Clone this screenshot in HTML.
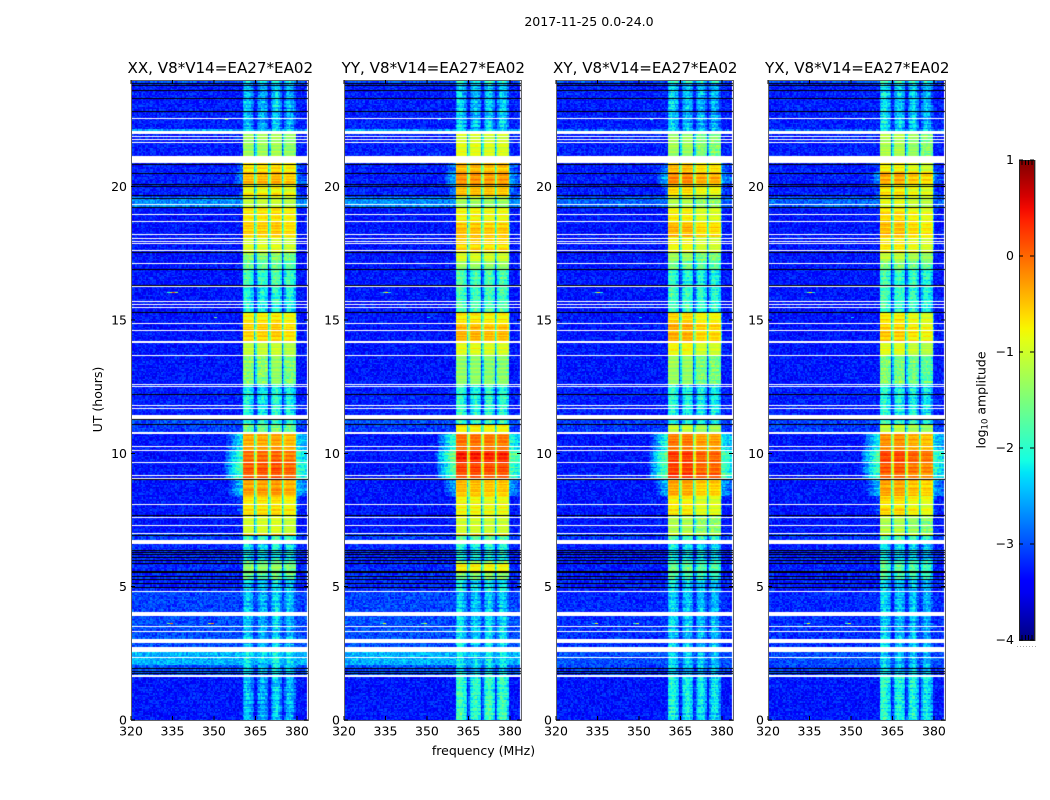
<!DOCTYPE html>
<html lang="en">
<head>
<meta charset="utf-8">
<title>2017-11-25 0.0-24.0</title>
<style>
html,body{margin:0;padding:0;background:#fff;}
#figure{position:relative;width:1050px;height:800px;overflow:hidden;background:#fff;font-family:"DejaVu Sans","Liberation Sans",sans-serif;}
canvas{position:absolute;display:block;}
svg{position:absolute;left:0;top:0;}
text{fill:#000;font-family:"DejaVu Sans","Liberation Sans",sans-serif;}
</style>
</head>
<body>
<div id="figure">
<svg id="overlay" width="1050" height="800" viewBox="0 0 1050 800">
<defs><linearGradient id="jet-gradient" x1="0" y1="1" x2="0" y2="0"></linearGradient></defs>
<text x="589" y="26" font-size="12.55" text-anchor="middle">2017-11-25 0.0-24.0</text>
<text x="483.5" y="755" font-size="12.5" text-anchor="middle">frequency (MHz)</text>
<text transform="translate(102,399.5) rotate(-90)" font-size="12.5" text-anchor="middle">UT (hours)</text>
<text transform="translate(985.5,400) rotate(-90)" font-size="12.5" text-anchor="middle">log<tspan font-size="8.5" dy="2">10</tspan><tspan dy="-2"> amplitude</tspan></text>
</svg>
</div>
<script>
// ---------- Data ----------
const polarisations = ["XX", "YY", "XY", "YX"];
const panelTitles = ["XX, V8*V14=EA27*EA02", "YY, V8*V14=EA27*EA02", "XY, V8*V14=EA27*EA02", "YX, V8*V14=EA27*EA02"];
const freqTicks = [320, 335, 350, 365, 380];
const hourTicks = [0, 5, 10, 15, 20];
const colorTicks = [1, 0, -1, -2, -3, -4];

// Time segments: each starts at bandStart[i] and ends at the next start (hours UT)
const bandStart = [0, 1.65, 2.05, 2.75, 3.9, 4.85, 5.3, 5.55, 5.85, 6.0, 6.6, 6.95, 7.0, 7.65, 8.4, 9.05, 9.65, 10.1, 10.75, 11.1, 11.3, 12.56, 13.65, 14.14, 14.89, 15.3, 16.28, 16.91, 17.18, 17.55, 18.08, 18.64, 19.24, 19.61, 20.1, 20.53, 20.89, 21.98, 22.13, 23.9];
// Peak log10 amplitude inside the 360-380 MHz passband for each segment
const peakXX = [-2.6, -2.55, -2.35, -2.55, -2.5, -2.45, -1.7, -1.4, -1.7, -2.35, -2.05, -0.5, -1.0, -0.7, -0.3, 0.1, 0.0, -0.35, -1.6, -2.05, -2.25, -1.45, -1.1, -0.55, -0.7, -2.15, -1.95, -1.7, -1.5, -0.95, -0.55, -0.7, -1.1, -0.8, -0.45, -0.6, -1.3, -2.45, -2.6, -2.25];
const peakYY = [-2.05, -2.45, -2.35, -2.45, -2.55, -2.35, -1.6, -0.85, -1.5, -2.25, -1.75, -0.6, -1.0, -0.8, -0.5, 0.15, 0.3, -0.1, -0.8, -2.05, -2.15, -1.4, -0.9, -0.45, -0.75, -1.95, -1.95, -1.4, -1.0, -0.6, -0.5, -0.8, -1.3, -0.5, -0.25, -0.5, -0.95, -2.45, -2.55, -2.15];
const peakXY = [-2.3, -2.55, -2.55, -2.55, -2.55, -2.45, -1.9, -1.7, -1.9, -2.35, -2.05, -0.8, -1.3, -0.85, -0.45, 0.1, 0.1, -0.2, -1.1, -2.15, -2.25, -1.45, -0.9, -0.5, -0.7, -2.05, -2.15, -1.7, -1.4, -0.9, -0.5, -0.85, -1.3, -0.7, -0.3, -0.55, -1.4, -2.45, -2.55, -2.15];
const peakYX = [-2.25, -2.55, -2.55, -2.55, -2.55, -2.45, -2.0, -1.9, -2.0, -2.45, -2.05, -0.9, -1.3, -0.7, -0.4, 0.0, 0.1, -0.3, -1.2, -2.15, -2.25, -1.6, -1.0, -0.6, -0.75, -2.05, -2.05, -1.6, -1.2, -0.8, -0.55, -0.7, -1.0, -0.75, -0.4, -0.8, -1.3, -2.45, -2.5, -2.15];
// Background (out-of-band) level per segment, parallel hands and cross hands
const floorParallel = [-3.3, -3.0, -2.5, -3.0, -3.05, -3.2, -3.2, -3.2, -3.2, -3.2, -3.1, -3.1, -3.3, -3.3, -3.3, -3.3, -3.3, -3.3, -3.1, -3.0, -3.25, -3.3, -3.3, -3.3, -3.3, -3.3, -3.3, -3.3, -3.3, -3.3, -3.3, -3.3, -2.7, -3.25, -3.25, -3.25, -3.25, -2.6, -3.25, -3.0];
const floorCross = [-3.3, -3.1, -3.0, -3.15, -3.2, -3.25, -3.25, -3.25, -3.25, -3.25, -3.15, -3.1, -3.3, -3.3, -3.3, -3.3, -3.3, -3.3, -3.1, -3.1, -3.25, -3.3, -3.3, -3.3, -3.3, -3.3, -3.3, -3.3, -3.3, -3.3, -3.3, -3.3, -2.9, -3.25, -3.25, -3.25, -3.25, -2.9, -3.25, -3.0];
// How far the out-of-band wings sit below their usual level in each segment
const wingDrop = [1.5, 1.5, 1.5, 1.5, 1.5, 1.5, 1.5, 1.5, 1.5, 1.5, 1.5, 1.5, 1.5, 0.5, 0.2, 0, 0, 0, 1.5, 1.5, 1.5, 1.5, 1.5, 1.5, 1.5, 1.5, 1.5, 1.5, 1.5, 1.5, 1.5, 1.5, 1.5, 0.4, 0.4, 0.4, 1.5, 1.5, 1.5, 1.5];
// Spectral shape relative to the peak, one value per 0.5 MHz channel from 320 MHz
const passbandShape = [
 -9,-9,-9,-9,-9,-9,-9,-9,-9,-9,-9,-9,-9,-9,-9,-9,-9,-9,-9,-9,-9,-9,-9,-9,-9,-9,-9,-9,-9,-9,-9,-9,
 -9,-9,-9,-9,-9,-9,-9,-9,-9,-9,-9,-9,-9,-9,-9,-9,-9,-9,-9,-9,-9,-9,-9,-9,-9,-9,-9,-9,-9,-9,-9,-9,
 -3.8,-3.6,-3.4,-3.2,-3.0,-2.85,-2.7,-2.6,-2.5,-2.4,-2.3,-2.2,-2.1,-2.0,-1.95,-1.9,-1.85,
 -0.1,0,0,0,0,0,0,-0.1,
 -1.6,-0.9,
 -0.1,0,0,0,0,0,0,-0.1,
 -1.6,-0.9,
 -0.1,0,0,0,0,0,0,-0.1,
 -1.6,-0.9,
 -0.1,0,0,0,0,0,0,-0.1,
 -1.9,-1.95,-2.0,-2.05,-2.1,-2.15,-2.2,-2.3];
// Extra structure visible across the passband when it is faint (from 360.5 MHz)
const faintStructure = [0,0.15,0.25,0.2,0.1,0,-0.1,-0.25, 0,0, -0.3,-0.1,0,0.1,0.1,0,-0.1,-0.2, 0,0, -0.2,0,0.15,0.25,0.25,0.1,0,-0.15, 0,0, -0.15,0.05,0.2,0.25,0.2,0.1,0,-0.2];
const subbandGainXX = [0, 0.02, 0.06, -0.06];
const subbandGainYY = [0.05, 0.05, 0, 0];
const subbandGainXY = [0.1, 0.1, -0.1, -0.1];
const subbandGainYX = [0.1, 0.1, -0.05, -0.15];
// Flagged (white) single rows and wider spans, hours UT
const whiteLines = [22.56, 21.90, 21.79, 21.68, 19.35, 18.98, 18.71, 18.24, 18.09, 17.97, 17.88, 17.61, 17.14, 16.28, 15.71, 15.60, 15.49, 14.89, 14.63, 13.69, 12.60, 12.53, 11.81, 11.70, 10.29, 10.13, 9.68, 9.19, 9.08, 8.11, 7.62, 7.31, 7.01, 4.85, 3.53, 3.35, 2.37];
const whiteSpanStart = [21.99, 20.87, 14.12, 11.29, 10.73, 6.60, 3.90, 2.89, 2.56, 1.63];
const whiteSpanEnd = [22.07, 21.15, 14.21, 11.44, 10.80, 6.75, 4.05, 3.04, 2.75, 1.69];
// Very low (black) rows, hours UT
const blackLines = [23.9, 23.81, 23.63, 23.31, 22.84, 20.84, 20.51, 20.10, 20.03, 19.69, 19.59, 19.56, 19.24, 17.55, 16.91, 16.32, 15.29, 12.24, 11.27, 11.10, 9.04, 7.69, 6.94, 6.38, 6.30, 6.21, 6.12, 6.0, 5.89, 5.60, 5.55, 5.40, 5.29, 5.14, 4.99, 1.95, 1.84, 1.76];
// Narrow interference features
const rfiHour = [16.05, 16.05, 16.05, 16.05, 3.64, 3.64, 3.64, 3.64, 22.55, 15.1, 4.0];
const rfiFreq = [333, 334, 335, 336, 333, 334, 348, 349, 354, 350, 350];
const rfiLevel = [-2.0, -1.0, 0.1, -1.4, -1.6, 0.0, -1.2, -0.2, -1.4, -1.5, -1.5];
// Fixed speckle / row-stripe texture tables (visual grain only, not measured values)
const speckle = [0.3,-0.7,0.9,-0.2,0.5,-1,0.1,0.8,-0.5,-0.1,0.6,-0.8,0.2,1,-0.4,-0.6,0.7,0,-0.9,0.4,-0.3,0.9,-0.7,0.2,0.5,-0.1,-1,0.8,0.3,-0.5,0.6,-0.2,0.1,-0.8,1,-0.4,0.4,-0.6,0.7,-0.9,0,0.5,-0.3,0.9,-0.1,-0.7,0.2,0.8,-0.5,0.6,-1,0.3,-0.2,0.7,0.1,-0.8,0.4,-0.4,1,-0.6,0.2,-0.1,0.5,-0.9,0.8,-0.3,0,0.6,-0.7,0.3,-0.5,0.9,-0.2,0.1,-1,0.7,0.4,-0.6,0.2,-0.4,0.8,-0.8,0.5,-0.1,0.3,-0.9,0.6,0,-0.3,1,-0.7,0.1,-0.5,0.4,0.7,-0.2,-0.6];
const rowStripe = [0.4,-0.6,0.1,0.8,-0.3,-0.9,0.5,0.2,-0.5,1,-0.2,-0.7,0.3,0.6,-1,0,0.7,-0.4,0.2,0.9,-0.8,-0.1,0.4,-0.6,0.8,0.1,-0.3,-0.9,0.6,0.2,-0.5,0.3,-0.2,0.7,-0.7,0.5,-0.4];

// ---------- Axes ----------
const peaksByPanel = [peakXX, peakYY, peakXY, peakYX];
const gainsByPanel = [subbandGainXX, subbandGainYY, subbandGainXY, subbandGainYX];
const panelLeft = [131, 344, 556, 768];
const plotTop = 80, plotBottom = 720, plotWidth = 177;
const freqMin = 320, freqMax = 384, hourMin = 0, hourMax = 24;
const channelWidth = 0.5, rowHours = 0.05;
const passbandFirstChannel = 81, passbandLowMHz = 360.5, passbandHighMHz = 380;
const colorMin = -4, colorMax = 1, barTop = 160, barBottom = 640, barLeft = 1019, barRight = 1035;

function xScale(f) { return (f - freqMin) / (freqMax - freqMin) * plotWidth; }
function yScale(h) { return (hourMax - h) / (hourMax - hourMin) * (plotBottom - plotTop); }
function colorScale(v) { return barBottom - (v - colorMin) / (colorMax - colorMin) * (barBottom - barTop); }

function jet(t) {
  t = Math.max(0, Math.min(1, t));
  const seg = (x, pts) => {
    for (let i = 1; i < pts.length; i++) {
      if (x <= pts[i][0]) {
        const a = pts[i - 1], b = pts[i];
        return a[1] + (b[1] - a[1]) * (x - a[0]) / (b[0] - a[0]);
      }
    }
    return pts[pts.length - 1][1];
  };
  const r = seg(t, [[0, 0], [0.35, 0], [0.66, 1], [0.89, 1], [1, 0.5]]);
  const g = seg(t, [[0, 0], [0.125, 0], [0.375, 1], [0.64, 1], [0.91, 0], [1, 0]]);
  const b = seg(t, [[0, 0.5], [0.11, 1], [0.34, 1], [0.65, 0], [1, 0]]);
  return "rgb(" + Math.round(r * 255) + "," + Math.round(g * 255) + "," + Math.round(b * 255) + ")";
}
const jetTable = [];
for (let i = 0; i < 512; i++) jetTable.push(jet(i / 511));
function levelColor(v) {
  const t = (v - colorMin) / (colorMax - colorMin);
  return jetTable[Math.max(0, Math.min(511, Math.round(t * 511)))];
}
function bandIndex(hour) {
  let k = 0;
  for (let i = 0; i < bandStart.length; i++) if (hour >= bandStart[i]) k = i;
  return k;
}
function subbandIndex(freq) {
  return freq < 365.5 ? 0 : freq < 370.5 ? 1 : freq < 375.5 ? 2 : 3;
}
function grainAt(c, r, p) {
  const n = speckle.length;
  const a = (c * 31 + r * 7 + p * 19) % n;
  const b = (r * 11 + c * 3 + p * 5) % n;
  return speckle[(a * 5 + Math.round((speckle[b] + 1) * 40) + r) % n];
}

// ---------- Heatmaps ----------
function drawPanel(p) {
  const canvas = document.createElement("canvas");
  
  
  canvas.width = plotWidth;
  canvas.height = plotBottom - plotTop;
  canvas.style.left = panelLeft[p] + "px";
  canvas.style.top = plotTop + "px";
  document.getElementById("figure").insertBefore(canvas, document.getElementById("overlay"));
  const ctx = canvas.getContext("2d");
  const rows = Math.round((hourMax - hourMin) / rowHours);
  const chans = passbandShape.length;
  const peaks = peaksByPanel[p], gains = gainsByPanel[p];
  const floors = p < 2 ? floorParallel : floorCross;
  for (let r = 0; r < rows; r++) {
    const hour = hourMin + r * rowHours;
    const b = bandIndex(hour + rowHours / 2);
    const y0 = Math.round(yScale(hour + rowHours)), y1 = Math.round(yScale(hour));
    if (y1 <= y0) continue;
    const stripe = rowStripe[(r + p * 5) % rowStripe.length];
    const faintWeight = Math.max(0, Math.min(1, (-1.3 - peaks[b]) / 0.8));
    for (let c = 0; c < chans; c++) {
      const freq = freqMin + c * channelWidth;
      const x0 = Math.round(xScale(freq)), x1 = Math.round(xScale(freq + channelWidth));
      if (x1 <= x0) continue;
      const inBand = passbandShape[c] > -1;
      const isWing = freq < passbandLowMHz || freq >= passbandHighMHz;
      const gain = inBand ? gains[subbandIndex(freq)] : 0;
      const k = c - passbandFirstChannel;
      const structure = inBand && k >= 0 && k < faintStructure.length ? faintStructure[k] * faintWeight : 0;
      const drop = isWing ? wingDrop[b] : 0;
      const base = Math.max(floors[b], peaks[b] + passbandShape[c] + gain + structure - drop);
      const above = base > floors[b] + 0.05;
      const grainSize = above ? (base > -1.4 ? 0.06 : 0.3) : 0.3;
      const v = base + stripe * (above ? 0.2 : 0.03) + grainAt(c, r, p) * grainSize;
      ctx.fillStyle = levelColor(v);
      ctx.fillRect(x0, y0, x1 - x0, y1 - y0);
    }
  }
  rfiHour.forEach((h, i) => {
    const lvl = rfiLevel[i] - (p === 0 ? 0 : 0.8);
    ctx.fillStyle = levelColor(lvl);
    ctx.fillRect(Math.round(xScale(rfiFreq[i])), Math.round(yScale(h)), 3, 1);
  });
  ctx.fillStyle = "#fff";
  whiteLines.forEach(h => {
    ctx.fillRect(0, Math.round(yScale(h)), plotWidth, 1);
  });
  whiteSpanStart.forEach((s, i) => {
    const top = Math.round(yScale(whiteSpanEnd[i])), bot = Math.round(yScale(s));
    ctx.fillRect(0, top, plotWidth, Math.max(1, bot - top));
  });
  ctx.fillStyle = "#000";
  blackLines.forEach(h => {
    ctx.fillRect(0, Math.round(yScale(h)), plotWidth, 1);
  });
}
for (let p = 0; p < polarisations.length; p++) drawPanel(p);

// ---------- Axis furniture ----------
const overlay = document.getElementById("overlay");
const NS = "http://www.w3.org/2000/svg";
function addLine(parent, x1, y1, x2, y2, stroke) {
  const l = document.createElementNS(NS, "line");
  l.setAttribute("x1", x1); l.setAttribute("y1", y1);
  l.setAttribute("x2", x2); l.setAttribute("y2", y2);
  l.setAttribute("stroke", stroke || "#000");
  l.setAttribute("stroke-width", "1");
  l.setAttribute("shape-rendering", "crispEdges");
  parent.appendChild(l);
  return l;
}
function addText(parent, x, y, str, size, anchor) {
  const t = document.createElementNS(NS, "text");
  t.setAttribute("x", x); t.setAttribute("y", y);
  t.setAttribute("font-size", size);
  t.setAttribute("text-anchor", anchor);
  t.textContent = str;
  parent.appendChild(t);
  return t;
}

polarisations.forEach((pol, p) => {
  const left = panelLeft[p];
  const key = pol.toLowerCase();
  const g = document.createElementNS(NS, "g");
  
  
  overlay.appendChild(g);

  const title = addText(g, left + 89.3, 73, panelTitles[p], 15.1, "middle");
  
  

  const frame = document.createElementNS(NS, "rect");
  frame.setAttribute("x", left + 0.5);
  frame.setAttribute("y", plotTop + 0.5);
  frame.setAttribute("width", plotWidth);
  frame.setAttribute("height", plotBottom - plotTop);
  frame.setAttribute("fill", "none");
  frame.setAttribute("stroke", "#666");
  
  
  g.appendChild(frame);

  freqTicks.forEach(f => {
    const x = left + xScale(f);
    addLine(g, x, plotBottom, x, plotBottom - 4);
    addLine(g, x, plotTop, x, plotTop + 4);
    const lab = addText(g, x, plotBottom + 15.5, String(f), 12.5, "middle");
    
    
  });
  hourTicks.forEach(h => {
    const y = plotTop + yScale(h);
    addLine(g, left, y, left + 4, y);
    addLine(g, left + plotWidth, y, left + plotWidth - 4, y);
    const lab = addText(g, left - 4, y + 4.5, String(h), 12.5, "end");
    
    
  });
});

// ---------- Colour bar ----------
const gradient = document.getElementById("jet-gradient");
for (let i = 0; i <= 40; i++) {
  const stop = document.createElementNS(NS, "stop");
  stop.setAttribute("offset", (i / 40));
  stop.setAttribute("stop-color", jet(i / 40));
  gradient.appendChild(stop);
}
const cbar = document.createElementNS(NS, "g");


overlay.appendChild(cbar);
const cbarOutline = document.createElementNS(NS, "rect");
cbarOutline.setAttribute("x", barLeft + 0.5);
cbarOutline.setAttribute("y", barTop + 0.5);
cbarOutline.setAttribute("width", barRight - barLeft);
cbarOutline.setAttribute("height", barBottom - barTop);
cbarOutline.setAttribute("fill", "none");
cbarOutline.setAttribute("stroke", "#aaa");


cbar.appendChild(cbarOutline);
const cbarRect = document.createElementNS(NS, "rect");
cbarRect.setAttribute("x", barLeft + 0.5);
cbarRect.setAttribute("y", barTop + 0.5);
cbarRect.setAttribute("width", barRight - barLeft - 1);
cbarRect.setAttribute("height", barBottom - barTop);
cbarRect.setAttribute("fill", "url(#jet-gradient)");
cbarRect.setAttribute("stroke", "#222");


cbar.appendChild(cbarRect);
colorTicks.forEach(v => {
  const y = colorScale(v);
  addLine(cbar, barLeft, y, barLeft + 4, y);
  addLine(cbar, barRight - 5, y, barRight - 1, y);
  const s = v < 0 ? "\u2212" + Math.abs(v) : String(v);
  const lab = addText(cbar, barLeft - 5, y + 4, s, 12.5, "end");
  
  
});
for (let i = 1; i <= 4; i++) {
  const x = barLeft + i * 3.2;
  addLine(cbar, x, barTop, x, barTop + 5);
  addLine(cbar, x, barBottom, x, barBottom - 5);
}
for (let i = 0; i < 7; i++) {
  const dot = document.createElementNS(NS, "rect");
  dot.setAttribute("x", 1017 + i * 3);
  dot.setAttribute("y", 646);
  dot.setAttribute("width", 1);
  dot.setAttribute("height", 1);
  dot.setAttribute("fill", "#aaa");
  
  
  cbar.appendChild(dot);
}
</script>
</body>
</html>
